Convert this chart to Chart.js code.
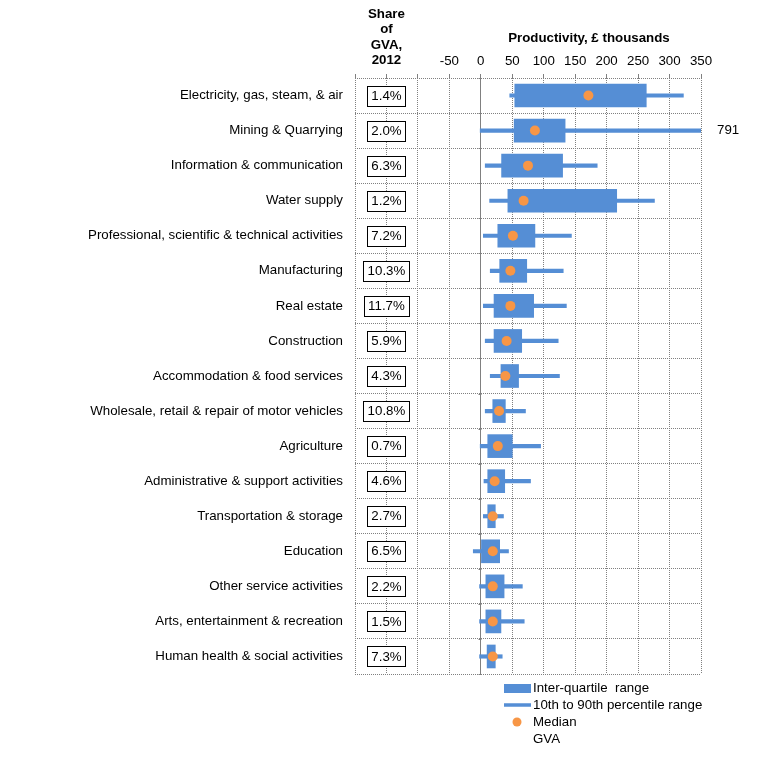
<!DOCTYPE html>
<html>
<head>
<meta charset="utf-8">
<script src="https://cdn.jsdelivr.net/npm/chart.js@4.4.1/dist/chart.umd.min.js"></script>
<style>
  html, body { margin: 0; padding: 0; background: #fff; }
  #wrap { width: 757px; height: 758px; position: relative; }
</style>
</head>
<body>
<div id="wrap"><canvas id="chart"></canvas></div>
<script>
// data (productivity, £ thousands)
const categories = [
  "Electricity, gas, steam, & air",
  "Mining & Quarrying",
  "Information & communication",
  "Water supply",
  "Professional, scientific & technical activities",
  "Manufacturing",
  "Real estate",
  "Construction",
  "Accommodation & food services",
  "Wholesale, retail & repair of motor vehicles",
  "Agriculture",
  "Administrative & support activities",
  "Transportation & storage",
  "Education",
  "Other service activities",
  "Arts, entertainment & recreation",
  "Human health & social activities"
];
const gvaShare = [1.4, 2.0, 6.3, 1.2, 7.2, 10.3, 11.7, 5.9, 4.3, 10.8, 0.7, 4.6, 2.7, 6.5, 2.2, 1.5, 7.3];
const p10 = [46, -1, 7, 14, 4, 15, 4, 7, 15, 7, -1, 5, 4, -12, -2, -2, -2];
const p90 = [322, 791, 185, 276, 144, 131, 136, 123, 125, 71, 95, 79, 36, 44, 66, 69, 34];
const q1 = [54, 53, 33, 43, 27, 30, 21, 21, 32, 19, 11, 11, 11, 1, 8, 8, 10];
const q3 = [263, 134, 130, 216, 86, 73, 84, 65, 60, 39, 50, 38, 23, 30, 37, 32, 23];
const medians = [171, 86, 75, 68, 51, 47, 47, 41, 39, 29, 27, 22, 19, 19, 19, 19, 19];

const xTicksShown = [-50, 0, 50, 100, 150, 200, 250, 300, 350];

const BLUE = "#558ed5";
const ORANGE = "#f79646";
const GRID = "#808080";
const FONT = "'Liberation Sans', Arial, sans-serif";
const FS = 13.3;
const GVA_COL = -150; // x value where the share boxes sit

// header texts, GVA boxes, out-of-range labels, zero-line ticks, legend
const extras = {
  id: "extras",
  afterDraw(c) {
    const ctx = c.ctx, x = c.scales.x, y = c.scales.y, area = c.chartArea;
    ctx.save();
    ctx.fillStyle = "#000";
    ctx.textBaseline = "middle";

    // headers
    ctx.font = "bold " + FS + "px " + FONT;
    ctx.textAlign = "center";
    const gx = x.getPixelForValue(GVA_COL);
    ["Share", "of", "GVA,", "2012"].forEach((t, i) => ctx.fillText(t, gx, 14.5 + i * 15.3));
    ctx.fillText("Productivity, £ thousands", (x.getPixelForValue(0) + x.getPixelForValue(350)) / 2 - 2, 38.5);

    // GVA share boxes
    ctx.font = FS + "px " + FONT;
    gvaShare.forEach((v, i) => {
      const t = v.toFixed(1) + "%";
      const w = Math.round(ctx.measureText(t).width) + 8;
      const py = y.getPixelForValue(i);
      const bx = Math.round(gx - w / 2) + 0.5, by = Math.round(py - 10) + 0.5;
      ctx.fillStyle = "#fff";
      ctx.fillRect(bx, by, w, 20);
      ctx.strokeStyle = "#000";
      ctx.lineWidth = 1;
      ctx.strokeRect(bx, by, w, 20);
      ctx.fillStyle = "#000";
      ctx.fillText(t, gx, py + 0.5);
    });

    // values beyond the axis
    ctx.textAlign = "left";
    p90.forEach((v, i) => {
      if (v > x.max) ctx.fillText(String(v), area.right + 16, y.getPixelForValue(i));
    });

    // small ticks on the zero line
    const x0 = Math.round(x.getPixelForValue(0)) + 0.5;
    ctx.strokeStyle = GRID;
    ctx.lineWidth = 1;
    for (let i = 0; i <= categories.length; i++) {
      const py = Math.round(y.getPixelForValue(i - 0.5)) + 0.5;
      ctx.beginPath();
      ctx.moveTo(x0 - 3, py);
      ctx.lineTo(x0, py);
      ctx.stroke();
    }

    // legend
    const lx = 504, tx = 533;
    ctx.fillStyle = BLUE;
    ctx.fillRect(lx, 684, 27, 9);
    ctx.strokeStyle = BLUE;
    ctx.lineWidth = 3.5;
    ctx.beginPath();
    ctx.moveTo(lx, 705);
    ctx.lineTo(lx + 27, 705);
    ctx.stroke();
    ctx.fillStyle = ORANGE;
    ctx.beginPath();
    ctx.arc(lx + 13, 722, 4.5, 0, Math.PI * 2);
    ctx.fill();
    ctx.fillStyle = "#000";
    ["Inter-quartile  range", "10th to 90th percentile range", "Median", "GVA"]
      .forEach((t, i) => ctx.fillText(t, tx, 688 + i * 17));
    ctx.restore();
  }
};

new Chart(document.getElementById("chart"), {
  type: "bar",
  data: {
    labels: categories,
    datasets: [
      {
        label: "Median",
        type: "line",
        data: medians,
        showLine: false,
        pointRadius: 5,
        pointHoverRadius: 5,
        pointBackgroundColor: ORANGE,
        pointBorderWidth: 0,
        order: 1
      },
      {
        label: "Inter-quartile range",
        data: q1.map((v, i) => [v, q3[i]]),
        backgroundColor: BLUE,
        barThickness: 23,
        grouped: false,
        order: 2
      },
      {
        label: "10th to 90th percentile range",
        data: p10.map((v, i) => [v, p90[i]]),
        backgroundColor: BLUE,
        barThickness: 3.5,
        grouped: false,
        order: 3
      }
    ]
  },
  options: {
    indexAxis: "y",
    responsive: true,
    maintainAspectRatio: false,
    devicePixelRatio: 1,
    animation: false,
    layout: { padding: { left: 0, right: 56, top: 0, bottom: 84 } },
    plugins: { legend: { display: false }, tooltip: { enabled: false } },
    scales: {
      x: {
        type: "linear",
        position: "top",
        min: -200,
        max: 350,
        afterFit: s => { s.height = 78; },
        ticks: {
          stepSize: 50,
          padding: 5,
          color: "#000",
          font: { family: FONT, size: FS },
          callback: v => xTicksShown.includes(v) ? v : ""
        },
        grid: {
          color: GRID,
          tickLength: 4,
          tickColor: GRID
        },
        border: {
          display: false,
          dash: c => (c.tick && c.tick.value === 0) ? [] : [1, 1]
        }
      },
      y: {
        type: "category",
        offset: true,
        afterFit: s => { s.width = 355; },
        ticks: {
          color: "#000",
          padding: 12,
          font: { family: FONT, size: FS }
        },
        grid: { offset: true, color: GRID, drawTicks: false },
        border: { display: false, dash: [1, 1] }
      }
    }
  },
  plugins: [extras]
});
</script>
</body>
</html>
